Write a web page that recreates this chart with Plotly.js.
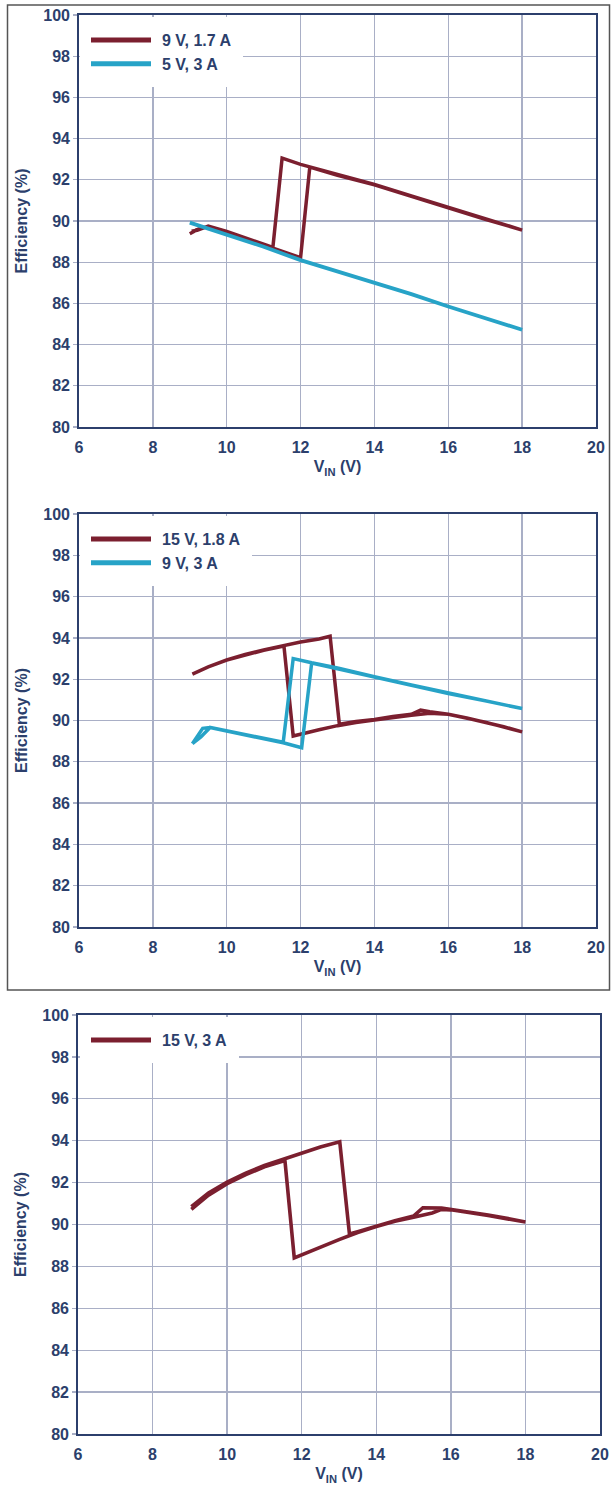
<!DOCTYPE html>
<html>
<head>
<meta charset="utf-8">
<script src="https://cdn.plot.ly/plotly-3.0.1.min.js"></script>
<style>
html,body{margin:0;padding:0;background:#fff;}
#chart{width:611px;height:1485px;}
</style>
</head>
<body>
<div id="chart"></div>
<script>
// ---------- DATA ----------
const xTicks = [6, 8, 10, 12, 14, 16, 18, 20];
const yTicks = [80, 82, 84, 86, 88, 90, 92, 94, 96, 98, 100];

// Panel 1
const p1Names = ["9 V, 1.7 A", "5 V, 3 A"];
const p1RedX = [9.0, 9.25, 9.15, 9.45, 10.0, 10.5, 11.0, 11.25, 11.5, 12.0, 12.25, 13.0, 14.0, 15.0, 16.0, 17.0, 18.0,
                17.0, 16.0, 15.0, 14.0, 13.0, 12.0, 11.5, 11.25, 11.0, 10.5, 10.0, 9.5, 9.2, 9.05];
const p1RedY = [89.38, 89.62, 89.55, 89.72, 89.45, 89.15, 88.85, 88.70, 88.55, 88.22, 92.62, 92.22, 91.76, 91.20, 90.62, 90.08, 89.56,
                90.10, 90.65, 91.22, 91.78, 92.28, 92.75, 93.05, 88.72, 88.87, 89.17, 89.50, 89.75, 89.55, 89.50];
const p1CyanX = [9.0, 9.5, 10.0, 11.0, 12.0, 13.0, 14.0, 15.0, 16.0, 17.0, 18.0];
const p1CyanY = [89.92, 89.62, 89.35, 88.75, 88.10, 87.55, 87.00, 86.45, 85.85, 85.30, 84.72];

// Panel 2
const p2Names = ["15 V, 1.8 A", "9 V, 3 A"];
const p2RedX = [9.07, 9.5, 10.0, 10.5, 11.0, 11.5, 12.0, 12.5, 12.8, 13.05, 13.5, 14.0, 14.5, 15.0, 15.25, 15.5, 16.0, 16.5, 17.0, 17.5, 18.0,
                17.0, 16.0, 15.5, 15.0, 14.5, 14.0, 13.5, 13.0, 12.5, 12.0, 11.8, 11.55, 11.0, 10.0, 9.5, 9.07];
const p2RedY = [92.25, 92.60, 92.93, 93.20, 93.42, 93.62, 93.80, 93.95, 94.08, 89.82, 89.95, 90.05, 90.20, 90.30, 90.50, 90.42, 90.30, 90.12, 89.92, 89.70, 89.45,
                89.92, 90.30, 90.35, 90.25, 90.15, 90.02, 89.90, 89.75, 89.55, 89.35, 89.25, 93.60, 93.40, 92.93, 92.60, 92.25];
const p2CyanX = [9.07, 9.35, 9.55, 10.0, 10.5, 11.0, 11.53, 12.03, 12.3, 13.0, 14.0, 15.0, 16.0, 17.0, 18.0,
                 17.0, 16.0, 15.0, 14.0, 13.0, 12.3, 11.8, 11.53, 11.0, 10.0, 9.55, 9.3, 9.07];
const p2CyanY = [88.88, 89.62, 89.66, 89.50, 89.32, 89.12, 88.92, 88.68, 92.78, 92.50, 92.10, 91.70, 91.30, 90.95, 90.58,
                 90.95, 91.32, 91.72, 92.12, 92.55, 92.80, 93.00, 88.95, 89.14, 89.52, 89.66, 89.20, 88.88];

// Panel 3
const p3Names = ["15 V, 3 A"];
const p3RedX = [9.04, 9.5, 10.0, 10.5, 11.0, 11.5, 12.0, 12.5, 13.02, 13.28, 13.5, 14.0, 14.5, 15.0, 15.25, 15.75, 16.0, 16.5, 17.0, 17.5, 18.0,
                17.0, 16.0, 15.75, 15.5, 15.0, 14.5, 14.0, 13.5, 13.0, 12.5, 12.0, 11.8, 11.55, 11.0, 10.5, 10.0, 9.5, 9.04];
const p3RedY = [90.85, 91.50, 92.02, 92.45, 92.82, 93.12, 93.42, 93.70, 93.95, 89.55, 89.66, 89.93, 90.18, 90.40, 90.80, 90.78, 90.72, 90.60, 90.45, 90.30, 90.12,
                90.43, 90.70, 90.72, 90.55, 90.35, 90.15, 89.90, 89.62, 89.28, 88.92, 88.55, 88.40, 93.05, 92.75, 92.38, 91.95, 91.40, 90.72];

// ---------- STYLE ----------
const W = 611, H = 1485;
const RED = "#7b1f2f", CYAN = "#27a3c7";
const NAVY = "#2c3f6c", GRID = "#a9afc6";
const FONT = "Liberation Sans, Arial, Helvetica, sans-serif";
const fx = p => p / W;
const fy = p => 1 - p / H;

function xAxis(d, anchor) {
  return {
    domain: d, anchor: anchor, range: [6, 20], tickvals: xTicks, ticktext: xTicks.map(String),
    showgrid: true, gridcolor: GRID, gridwidth: 1.3, zeroline: false,
    showline: true, linecolor: NAVY, linewidth: 1.8, mirror: true,
    ticks: "", ticklabelstandoff: 5,
    tickfont: {family: FONT, size: 16, color: NAVY, weight: "bold"},
    title: {text: "V<sub>IN</sub> (V)", font: {family: FONT, size: 16, color: NAVY, weight: "bold"}, standoff: 6},
    fixedrange: true
  };
}
function yAxis(d, anchor) {
  return {
    domain: d, anchor: anchor, range: [80, 100], tickvals: yTicks, ticktext: yTicks.map(String),
    showgrid: true, gridcolor: GRID, gridwidth: 1.3, zeroline: false,
    showline: true, linecolor: NAVY, linewidth: 1.8, mirror: true,
    ticks: "outside", ticklen: 4, tickcolor: GRID, tickwidth: 1.3,
    tickfont: {family: FONT, size: 16, color: NAVY, weight: "bold"},
    title: {text: "Efficiency (%)", font: {family: FONT, size: 16, color: NAVY, weight: "bold"}, standoff: 12},
    fixedrange: true
  };
}
function legendAt(xp, yp) {
  return {
    x: fx(xp), y: fy(yp), xanchor: "left", yanchor: "top",
    bgcolor: "#ffffff", bordercolor: "#ffffff", borderwidth: 6, itemwidth: 66,
    font: {family: FONT, size: 16, color: NAVY, weight: "bold"},
    tracegroupgap: 0, traceorder: "normal"
  };
}

const traces = [
  {x: p1RedX, y: p1RedY, xaxis: "x", yaxis: "y", name: p1Names[0], legend: "legend", mode: "lines", line: {color: RED, width: 3.5}},
  {x: p1CyanX, y: p1CyanY, xaxis: "x", yaxis: "y", name: p1Names[1], legend: "legend", mode: "lines", line: {color: CYAN, width: 3.8}},
  {x: p2RedX, y: p2RedY, xaxis: "x2", yaxis: "y2", name: p2Names[0], legend: "legend2", mode: "lines", line: {color: RED, width: 3.5}},
  {x: p2CyanX, y: p2CyanY, xaxis: "x2", yaxis: "y2", name: p2Names[1], legend: "legend2", mode: "lines", line: {color: CYAN, width: 3.5}},
  {x: p3RedX, y: p3RedY, xaxis: "x3", yaxis: "y3", name: p3Names[0], legend: "legend3", mode: "lines", line: {color: RED, width: 3.6}}
];

const layout = {
  width: W, height: H,
  margin: {l: 0, r: 0, t: 0, b: 0},
  paper_bgcolor: "#ffffff", plot_bgcolor: "#ffffff",
  showlegend: true,
  xaxis: xAxis([fx(79), fx(596)], "y"),
  yaxis: yAxis([fy(427), fy(15)], "x"),
  xaxis2: xAxis([fx(79), fx(596)], "y2"),
  yaxis2: yAxis([fy(927), fy(514)], "x2"),
  xaxis3: xAxis([fx(78), fx(600)], "y3"),
  yaxis3: yAxis([fy(1434), fy(1015)], "x3"),
  legend: legendAt(80, 17),
  legend2: legendAt(80, 516),
  legend3: legendAt(80, 1017),
  shapes: [
    {type: "rect", xref: "paper", yref: "paper", x0: fx(7.5), x1: fx(609.5), y0: fy(990), y1: fy(5),
     line: {color: "#555555", width: 1.5}, fillcolor: "rgba(0,0,0,0)", layer: "below"}
  ]
};

function fixLegend() {
  document.querySelectorAll("#chart .legendlines path").forEach(p => {
    p.setAttribute("d", "M5,0h60");
    p.style.strokeWidth = "5px";
  });
}

Plotly.newPlot("chart", traces, layout, {displayModeBar: false, staticPlot: true}).then(gd => {
  fixLegend();
  gd.on && gd.on("plotly_afterplot", fixLegend);
});
</script>
</body>
</html>
